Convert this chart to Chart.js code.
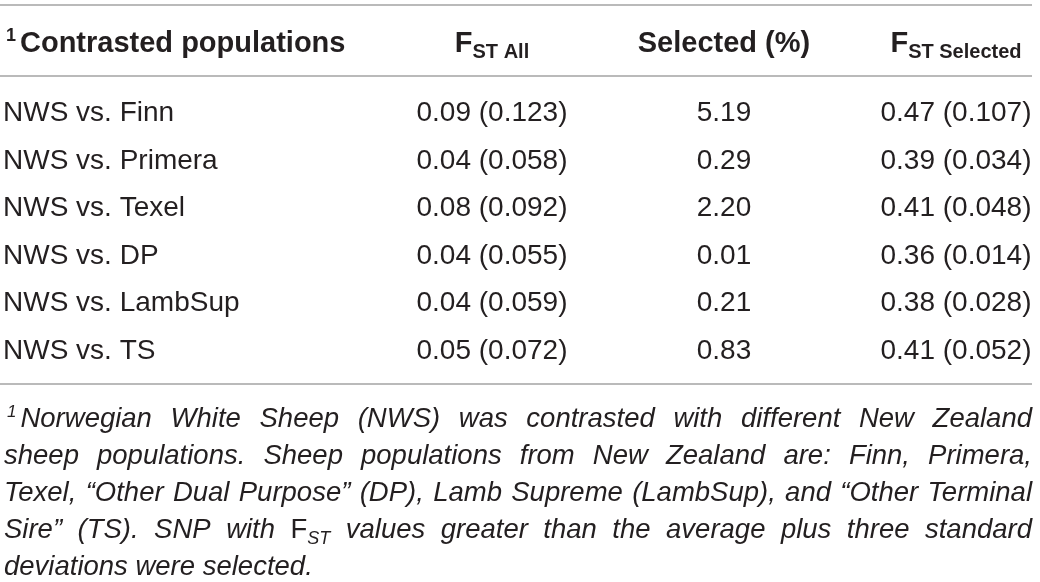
<!DOCTYPE html>
<html>
<head>
<meta charset="utf-8">
<script src="https://cdn.jsdelivr.net/npm/chart.js@4.4.1/dist/chart.umd.min.js"></script>
<style>
  html, body { margin: 0; padding: 0; background: #fff; }
  canvas { display: block; }
</style>
</head>
<body>
<canvas id="tbl" width="1040" height="582"></canvas>
<script>
// table data
const rowLabels = ['NWS vs. Finn', 'NWS vs. Primera', 'NWS vs. Texel', 'NWS vs. DP', 'NWS vs. LambSup', 'NWS vs. TS'];
const fstAllMean = [0.09, 0.04, 0.08, 0.04, 0.04, 0.05];
const fstAllSd = [0.123, 0.058, 0.092, 0.055, 0.059, 0.072];
const selectedPct = [5.19, 0.29, 2.20, 0.01, 0.21, 0.83];
const fstSelMean = [0.47, 0.39, 0.41, 0.36, 0.38, 0.41];
const fstSelSd = [0.107, 0.034, 0.048, 0.014, 0.028, 0.052];

const columnKeys = ['FstAll', 'Selected', 'FstSel'];
const firstHeader = 'Contrasted populations';
const columnHeaders = [
  {main: 'F', sub: 'ST All'},
  {main: 'Selected (%)'},
  {main: 'F', sub: 'ST Selected'}
];

const footnote = [
  '{sup:1}Norwegian White Sheep (NWS) was contrasted with different New Zealand',
  'sheep populations. Sheep populations from New Zealand are: Finn, Primera,',
  'Texel, \u201cOther Dual Purpose\u201d (DP), Lamb Supreme (LambSup), and \u201cOther Terminal',
  'Sire\u201d (TS). SNP with {up:F}{sub:ST} values greater than the average plus three standard',
  'deviations were selected.'
];

const FONT = "'Liberation Sans', Arial, Helvetica, sans-serif";
const INK = '#231f20';
const RULE = '#a3a3a3';

const pair = (m, s) => m.toFixed(2) + ' (' + s.toFixed(3) + ')';

const cellText = [
  rowLabels.map((r, i) => pair(fstAllMean[i], fstAllSd[i])),
  selectedPct.map(v => v.toFixed(2)),
  rowLabels.map((r, i) => pair(fstSelMean[i], fstSelSd[i]))
];

const datasets = columnKeys.map((key, c) => ({
  label: key,
  data: rowLabels.map((r, i) => ({x: key, y: r, text: cellText[c][i]})),
  pointRadius: 0,
  pointHoverRadius: 0
}));

// footnote word runs
const runStyles = {
  txt: {font: 'italic 27.5px ' + FONT, dy: 0, pad: 0},
  sup: {font: 'italic 17px ' + FONT, dy: -10, pad: 4},
  up: {font: '27.5px ' + FONT, dy: 0, pad: 0},
  sub: {font: 'italic 18px ' + FONT, dy: 6, pad: 0}
};

function parseWord(word) {
  const runs = [];
  const re = /\{(sup|sub|up):([^}]*)\}|([^{]+)/g;
  let m;
  while ((m = re.exec(word)) !== null) {
    if (m[1]) runs.push({style: m[1], t: m[2]});
    else runs.push({style: 'txt', t: m[3]});
  }
  return runs;
}

function wordWidth(ctx, runs) {
  let w = 0;
  runs.forEach(r => {
    const st = runStyles[r.style];
    ctx.font = st.font;
    w += ctx.measureText(r.t).width + st.pad;
  });
  return w;
}

function drawRuns(ctx, runs, x, y) {
  runs.forEach(r => {
    const st = runStyles[r.style];
    ctx.font = st.font;
    ctx.fillText(r.t, x, y + st.dy);
    x += ctx.measureText(r.t).width + st.pad;
  });
}

const tablePlugin = {
  id: 'tableText',
  afterDraw(chart) {
    const {ctx, scales: {x}} = chart;
    ctx.save();

    // rules
    ctx.strokeStyle = RULE;
    ctx.lineWidth = 1.6;
    [5, 76, 384].forEach(yy => {
      ctx.beginPath();
      ctx.moveTo(0, yy);
      ctx.lineTo(1032, yy);
      ctx.stroke();
    });

    ctx.fillStyle = INK;
    ctx.textBaseline = 'alphabetic';

    // header row
    ctx.textAlign = 'left';
    ctx.font = 'bold 18px ' + FONT;
    ctx.fillText('1', 6, 41);
    ctx.font = 'bold 29px ' + FONT;
    ctx.fillText(firstHeader, 20, 52);

    columnHeaders.forEach((h, c) => {
      const cx = x.getPixelForValue(c);
      ctx.font = 'bold 29px ' + FONT;
      const wMain = ctx.measureText(h.main).width;
      let wSub = 0;
      if (h.sub) {
        ctx.font = 'bold 20px ' + FONT;
        wSub = ctx.measureText(h.sub).width;
      }
      const sx = cx - (wMain + wSub) / 2;
      ctx.font = 'bold 29px ' + FONT;
      ctx.fillText(h.main, sx, 52);
      if (h.sub) {
        ctx.font = 'bold 20px ' + FONT;
        ctx.fillText(h.sub, sx + wMain, 58);
      }
    });

    // body cells, placed on the dataset points
    ctx.font = '28px ' + FONT;
    ctx.textAlign = 'center';
    ctx.textBaseline = 'middle';
    chart.data.datasets.forEach((ds, d) => {
      const meta = chart.getDatasetMeta(d);
      meta.data.forEach((pt, i) => {
        ctx.fillText(ds.data[i].text, pt.x, pt.y);
      });
    });

    // footnote, justified
    ctx.textAlign = 'left';
    ctx.textBaseline = 'alphabetic';
    const right = 1032;
    footnote.forEach((line, li) => {
      const left = li === 0 ? 7 : 4;
      const words = line.split(' ').map(parseWord);
      const widths = words.map(w => wordWidth(ctx, w));
      const total = widths.reduce((a, b) => a + b, 0);
      const last = li === footnote.length - 1;
      ctx.font = runStyles.txt.font;
      const gap = last ? ctx.measureText(' ').width : (right - left - total) / (words.length - 1);
      const baseY = 427 + li * 37;
      let xx = left;
      words.forEach((w, k) => {
        drawRuns(ctx, w, xx, baseY);
        xx += widths[k] + gap;
      });
    });

    ctx.restore();
  }
};

new Chart(document.getElementById('tbl'), {
  type: 'scatter',
  data: {datasets: datasets},
  options: {
    responsive: false,
    animation: false,
    events: [],
    layout: {padding: {left: 3, right: 84, top: 90, bottom: 207}},
    plugins: {legend: {display: false}, tooltip: {enabled: false}},
    scales: {
      x: {
        type: 'category',
        labels: columnKeys,
        offset: false,
        display: false
      },
      y: {
        type: 'category',
        labels: rowLabels,
        offset: true,
        grid: {display: false},
        border: {display: false},
        afterFit: s => { s.width = 489; },
        ticks: {
          crossAlign: 'far',
          padding: 0,
          autoSkip: false,
          color: INK,
          font: {family: FONT, size: 28}
        }
      }
    }
  },
  plugins: [tablePlugin]
});
</script>
</body>
</html>
